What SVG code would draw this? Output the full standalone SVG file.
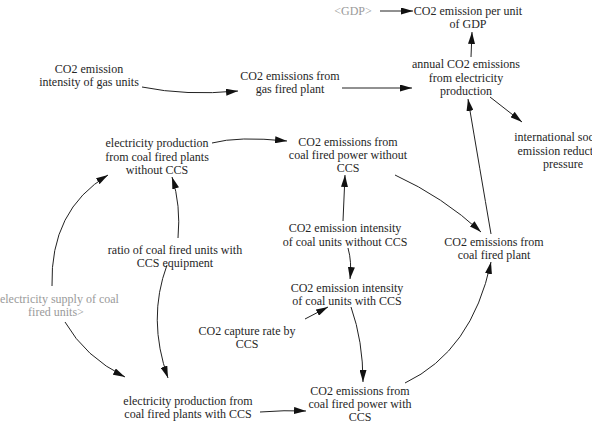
<svg xmlns="http://www.w3.org/2000/svg" width="592" height="423" viewBox="0 0 592 423">
<style>
text{font-family:"Liberation Serif","Times New Roman",serif;font-size:12px;fill:#262626;text-anchor:middle}
text.shadow{fill:#9a9a9a}
.c path{fill:none;stroke:#222;stroke-width:1;marker-end:url(#ah)}
</style>
<defs>
<marker id="ah" viewBox="0 0 12 7" refX="12" refY="3.5" markerWidth="12" markerHeight="7" orient="auto" markerUnits="userSpaceOnUse"><path d="M0,0 L12,3.5 L0,7 z" fill="#111"/></marker>
</defs>
<rect width="592" height="423" fill="#fff"/>
<g class="c" id="connectors">
<path d="M380,11 L413,11"/>
<path d="M471,57 L472,32"/>
<path d="M142,87 Q186,96 238,91"/>
<path d="M342,88 L412,88"/>
<path d="M490,97 L522,122"/>
<path d="M212,143 Q238,136 287,141"/>
<path d="M343,221 L345,175"/>
<path d="M395,175 Q443,197 481,232"/>
<path d="M491,234 Q480,170 468,99"/>
<path d="M348,248 Q352,262 350,279"/>
<path d="M305,319 L328,307"/>
<path d="M351,307 Q363,341 363,382"/>
<path d="M405,383 Q472,351 491,262"/>
<path d="M260,412 Q285,410 306,411"/>
<path d="M65,322 Q85,357 125,377"/>
<path d="M52,286 Q50,210 108,175"/>
<path d="M178,238 Q181,205 172,177"/>
<path d="M167,265 Q147,319 168,378"/>
</g>
<g id="gdp"><text class="shadow" x="353" y="15">&lt;GDP&gt;</text></g>
<g id="co2_per_gdp"><text x="468" y="15">CO2 emission per unit</text><text x="468" y="28">of GDP</text></g>
<g id="annual_co2"><text x="466" y="68">annual CO2 emissions</text><text x="466" y="81.5">from electricity</text><text x="466" y="95">production</text></g>
<g id="intl_pressure"><text x="563" y="141">international society</text><text x="563" y="154.5">emission reduction</text><text x="563" y="168">pressure</text></g>
<g id="gas_intensity"><text x="89" y="73">CO2 emission</text><text x="89" y="86">intensity of gas units</text></g>
<g id="gas_plant"><text x="290" y="80">CO2 emissions from</text><text x="290" y="93">gas fired plant</text></g>
<g id="elec_without"><text x="157" y="147">electricity production</text><text x="157" y="160.5">from coal fired plants</text><text x="157" y="174">without CCS</text></g>
<g id="co2_without"><text x="348" y="146">CO2 emissions from</text><text x="348" y="159">coal fired power without</text><text x="348" y="172">CCS</text></g>
<g id="intensity_without"><text x="345" y="232">CO2 emission intensity</text><text x="345" y="245.5">of coal units without CCS</text></g>
<g id="intensity_with"><text x="347" y="292">CO2 emission intensity</text><text x="347" y="305">of coal units with CCS</text></g>
<g id="coal_plant"><text x="494" y="246">CO2 emissions from</text><text x="494" y="259">coal fired plant</text></g>
<g id="capture_rate"><text x="247" y="335">CO2 capture rate by</text><text x="247" y="348">CCS</text></g>
<g id="co2_with"><text x="360" y="395">CO2 emissions from</text><text x="360" y="408">coal fired power with</text><text x="360" y="420.5">CCS</text></g>
<g id="elec_with"><text x="188" y="405">electricity production from</text><text x="188" y="418">coal fired plants with CCS</text></g>
<g id="ratio_ccs"><text x="175" y="254">ratio of coal fired units with</text><text x="175" y="267">CCS equipment</text></g>
<g id="elec_supply"><text class="shadow" x="56" y="303">&lt;electricity supply of coal</text><text class="shadow" x="56" y="316">fired units&gt;</text></g>
</svg>
